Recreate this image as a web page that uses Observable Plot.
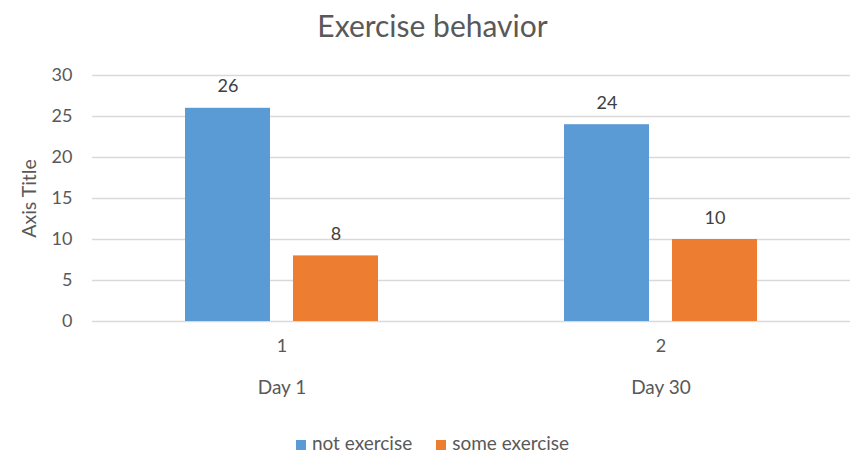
<!DOCTYPE html>
<html><head><meta charset="utf-8">
<script src="https://cdn.jsdelivr.net/npm/d3@7"></script>
<script src="https://cdn.jsdelivr.net/npm/@observablehq/plot@0.6"></script>
<style>
body{margin:0;background:#fff;font-family:Lato,"Open Sans",sans-serif;color:#595959;}
#wrap{width:865px;height:469px;position:relative;overflow:hidden;}
#title{height:55px;line-height:51px;text-align:center;font-size:30px;color:#595959;}
#chart svg{display:block;}
#legend{position:absolute;left:0;top:431px;width:865px;text-align:center;font-size:19px;color:#595959;}
#legend span.item{display:inline-block;margin:0 12px;}
#legend span.sw{display:inline-block;width:10px;height:10px;margin-right:6px;vertical-align:0px;}
</style></head><body>
<div id="wrap"><div id="title">Exercise behavior</div><div id="chart"></div><div id="legend"></div></div>
<script>
const days = ["Day 1", "Day 30"];
const dayIndex = ["1", "2"];
const series = ["not exercise", "some exercise"];
const notExercise = [26, 24];
const someExercise = [8, 10];
const colors = ["#5B9BD5", "#ED7D31"];
const yTicks = [0, 5, 10, 15, 20, 25, 30];

const data = days.flatMap((d, i) => [
  {day: d, series: series[0], value: notExercise[i]},
  {day: d, series: series[1], value: someExercise[i]}
]);

const plot = Plot.plot({
  width: 865, height: 365,
  marginTop: 20, marginBottom: 99, marginLeft: 92, marginRight: 15,
  style: {fontFamily: "Lato, 'Open Sans', sans-serif", fontSize: "18px", color: "#595959", background: "white"},
  fx: {domain: days, padding: 0},
  x: {domain: series, paddingInner: 0.213, paddingOuter: 0.861, axis: null},
  y: {domain: [0, 30]},
  color: {domain: series, range: colors},
  marks: [
    Plot.gridY(yTicks, {stroke: "#D9D9D9", strokeOpacity: 1, strokeWidth: 1.3}),
    Plot.axisY(yTicks, {tickSize: 0, tickPadding: 20, label: null, fill: "#595959", fontSize: 18}),
    Plot.axisY([], {tickSize: 0, label: "Axis Title", labelAnchor: "center", labelArrow: "none", labelOffset: 70, fill: "#595959", fontSize: 19.5}),
    Plot.barY(data, {fx: "day", x: "series", y: "value", fill: "series"}),
    Plot.text(data, {fx: "day", x: "series", y: "value", text: d => String(d.value), lineAnchor: "bottom", dy: -16, fill: "#404040", fontSize: 18}),
    Plot.axisFx({anchor: "bottom", tickSize: 0, tickPadding: 18, tickFormat: d => dayIndex[days.indexOf(d)], label: null, fill: "#595959", fontSize: 18}),
    Plot.axisFx({anchor: "bottom", tickSize: 0, tickPadding: 59, label: null, fill: "#595959", fontSize: 19})
  ]
});
document.getElementById("chart").appendChild(plot);

const legend = document.getElementById("legend");
series.forEach((s, i) => {
  const item = document.createElement("span");
  item.className = "item";
  const sw = document.createElement("span");
  sw.className = "sw";
  sw.style.background = colors[i];
  item.appendChild(sw);
  item.appendChild(document.createTextNode(s));
  legend.appendChild(item);
});
</script>
</body></html>
